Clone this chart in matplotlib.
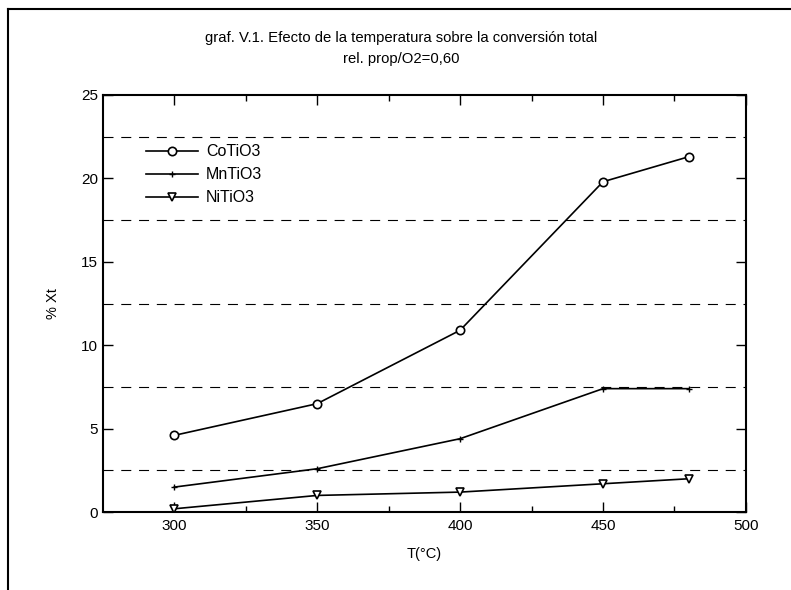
import matplotlib.pyplot as plt
import numpy as np

plt.rcParams['font.family'] = ['Liberation Sans', 'DejaVu Sans']

# Data
temps = [300, 350, 400, 450, 480]
co_tio3 = [4.6, 6.5, 10.9, 19.8, 21.3]
mn_tio3 = [1.5, 2.6, 4.4, 7.4, 7.4]
ni_tio3 = [0.2, 1.0, 1.2, 1.7, 2.0]
grid_levels = [2.5, 7.5, 12.5, 17.5, 22.5]

fig = plt.figure(figsize=(7.91, 5.90), dpi=100)
ax = fig.add_axes([0.130, 0.132, 0.813, 0.707])

# frame of the scanned figure (left and top edges)
fig.add_artist(plt.Line2D([0.010, 0.010], [0.0, 0.985], color='black', lw=1.5,
                          transform=fig.transFigure))
fig.add_artist(plt.Line2D([0.010, 1.0], [0.985, 0.985], color='black', lw=1.5,
                          transform=fig.transFigure))

for g in grid_levels:
    ax.axhline(g, color='black', lw=0.8, linestyle=(0, (9, 7)), zorder=1)

ax.plot(temps, co_tio3, color='black', lw=1.2, marker='o', ms=6,
        mfc='white', mec='black', mew=1.2, label='CoTiO3', zorder=3)
ax.plot(temps, mn_tio3, color='black', lw=1.2, marker='+', ms=5,
        mew=1.0, label='MnTiO3', zorder=3)
ax.plot(temps, ni_tio3, color='black', lw=1.2, marker='v', ms=6,
        mfc='white', mec='black', mew=1.2, label='NiTiO3', zorder=3)

ax.set_xlim(275, 500)
ax.set_ylim(0, 25)
ax.set_xticks([300, 350, 400, 450, 500])
ax.set_xticks([325, 375, 425, 475], minor=True)
ax.set_yticks([0, 5, 10, 15, 20, 25])
ax.tick_params(which='both', direction='in', top=True, right=True,
               labelsize=11, width=1.0)
ax.tick_params(which='major', length=7)
ax.tick_params(which='minor', length=4)
ax.tick_params(axis='x', pad=5)
for s in ax.spines.values():
    s.set_linewidth(1.5)

ax.set_xlabel('T(°C)', fontsize=10.5, labelpad=10)
ax.set_ylabel('% Xt', fontsize=10.5, labelpad=15)

fig.text(0.507, 0.935, 'graf. V.1. Efecto de la temperatura sobre la conversión total',
         ha='center', va='center', fontsize=10.7)
fig.text(0.507, 0.900, 'rel. prop/O2=0,60', ha='center', va='center', fontsize=10.7)

leg = ax.legend(loc='upper left', bbox_to_anchor=(0.044, 0.916), frameon=False,
                fontsize=11.5, handlelength=3.3, labelspacing=0.5, handletextpad=0.5)
leg.set_zorder(5)

fig.savefig('out.png', dpi=100, facecolor='white')
